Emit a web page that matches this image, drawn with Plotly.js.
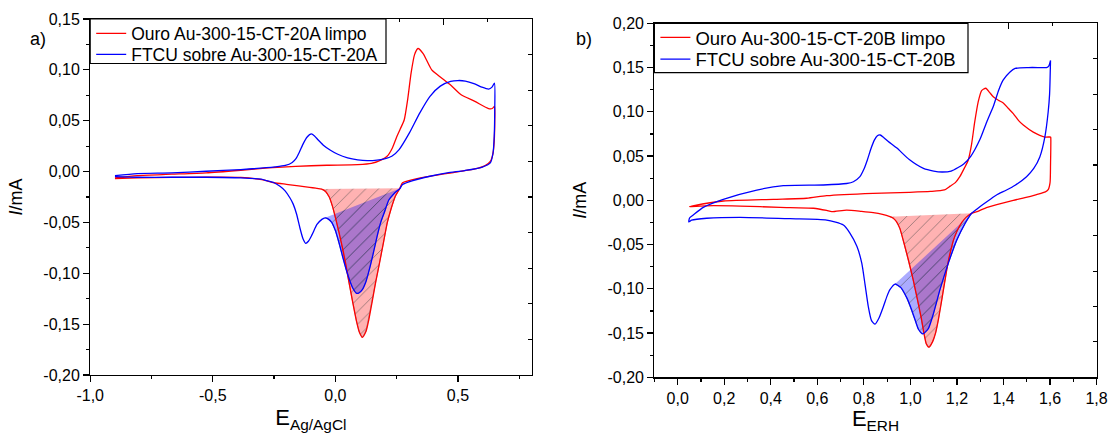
<!DOCTYPE html>
<html>
<head>
<meta charset="utf-8">
<script src="https://cdn.plot.ly/plotly-3.0.1.min.js"></script>
<style>html,body{margin:0;padding:0;background:#fff;}#chart{width:1108px;height:434px;}</style>
</head>
<body>
<div id="chart"></div>
<script>
// ---------------- DATA ----------------
// Panel a) E vs Ag/AgCl ; each cycle: anodic sweep (left->right) then cathodic sweep (right->left)
const leftNames = ['Ouro Au-300-15-CT-20A limpo', 'FTCU sobre Au-300-15-CT-20A'];
const leftRedX = [
 -0.899,-0.808,-0.667,-0.527,-0.386,-0.274,-0.162,-0.035,0.091,0.147,0.190,0.211,0.232,0.250,0.265,0.281,0.295,0.309,0.323,0.337,0.358,0.393,0.428,0.470,0.513,0.569,0.625,0.640,0.649,
 0.650,0.648,0.643,0.632,0.611,0.569,0.485,0.400,0.316,0.274,0.263,0.245,0.228,0.212,0.196,0.180,0.165,0.150,0.137,0.125,0.110,0.098,0.087,0.072,0.058,0.044,0.030,0.015,0.002,-0.012,-0.025,-0.040,-0.056,-0.080,-0.105,-0.150,-0.200,-0.250,-0.300,-0.386,-0.527,-0.667,-0.808,-0.899];
const leftRedY = [
 -0.0062,-0.0039,-0.0026,-0.0013,0.0013,0.0036,0.0052,0.0062,0.0068,0.0080,0.0118,0.0150,0.0230,0.0340,0.0420,0.0510,0.0710,0.0970,0.1150,0.1210,0.1160,0.1000,0.0930,0.0850,0.0755,0.0690,0.0620,0.0620,0.0640,
 0.0500,0.0300,0.0180,0.0100,0.0059,0.0026,-0.0007,-0.0039,-0.0078,-0.0110,-0.0165,-0.0240,-0.0360,-0.0500,-0.0700,-0.0900,-0.1080,-0.1280,-0.1450,-0.1570,-0.1630,-0.1580,-0.1480,-0.1300,-0.1120,-0.0930,-0.0760,-0.0600,-0.0470,-0.0340,-0.0250,-0.0195,-0.0172,-0.0163,-0.0155,-0.0140,-0.0125,-0.0110,-0.0080,-0.0058,-0.0056,-0.0058,-0.0062,-0.0069];
const leftBlueX = [
 -0.899,-0.808,-0.667,-0.527,-0.386,-0.246,-0.204,-0.176,-0.160,-0.147,-0.130,-0.115,-0.098,-0.085,-0.070,-0.049,-0.020,0.010,0.050,0.091,0.130,0.170,0.200,0.230,0.260,0.302,0.344,0.386,0.428,0.470,0.500,0.530,0.565,0.597,0.625,0.639,0.649,
 0.650,0.648,0.643,0.632,0.597,0.527,0.456,0.386,0.316,0.274,0.263,0.240,0.218,0.200,0.185,0.170,0.155,0.140,0.125,0.110,0.095,0.085,0.072,0.060,0.045,0.030,0.015,0.000,-0.015,-0.030,-0.042,-0.055,-0.075,-0.095,-0.110,-0.121,-0.132,-0.145,-0.158,-0.172,-0.185,-0.205,-0.226,-0.250,-0.280,-0.302,-0.386,-0.527,-0.667,-0.808,-0.899];
const leftBlueY = [
 -0.0040,-0.0020,-0.0013,0.0003,0.0020,0.0046,0.0060,0.0090,0.0130,0.0190,0.0280,0.0340,0.0370,0.0350,0.0310,0.0260,0.0210,0.0170,0.0135,0.0115,0.0107,0.0112,0.0125,0.0150,0.0216,0.0380,0.0575,0.0740,0.0840,0.0886,0.0895,0.0890,0.0865,0.0830,0.0810,0.0830,0.0870,
 0.0600,0.0350,0.0180,0.0085,0.0042,0.0010,-0.0013,-0.0046,-0.0088,-0.0127,-0.0167,-0.0215,-0.0280,-0.0400,-0.0500,-0.0640,-0.0800,-0.0950,-0.1080,-0.1160,-0.1195,-0.1195,-0.1150,-0.1080,-0.0970,-0.0840,-0.0700,-0.0580,-0.0500,-0.0465,-0.0455,-0.0470,-0.0520,-0.0620,-0.0685,-0.0705,-0.0660,-0.0550,-0.0420,-0.0320,-0.0260,-0.0190,-0.0145,-0.0110,-0.0090,-0.0075,-0.0062,-0.0056,-0.0056,-0.0056,-0.0050];
// integration baselines (x of the two end points on the cathodic branch)
const leftRedBase = [-0.056, 0.263];
const leftBlueBase = [-0.042, 0.263];

// Panel b) E vs ERH
const rightNames = ['Ouro Au-300-15-CT-20B limpo', 'FTCU sobre Au-300-15-CT-20B'];
const rightRedX = [
 0.051,0.070,0.196,0.411,0.554,0.640,0.840,0.995,1.086,1.146,1.171,1.193,1.213,1.235,1.248,1.262,1.276,1.291,1.306,1.324,1.340,1.356,1.378,1.399,1.420,1.442,1.465,1.485,1.528,1.578,1.602,
 1.603,1.602,1.600,1.592,1.580,1.542,1.492,1.442,1.371,1.320,1.290,1.263,1.240,1.221,1.200,1.185,1.172,1.162,1.152,1.142,1.130,1.120,1.108,1.095,1.080,1.068,1.058,1.046,1.030,1.012,0.992,0.972,0.955,0.940,0.925,0.912,0.880,0.840,0.790,0.726,0.662,0.640,0.583,0.440,0.268,0.120,0.060,0.051];
const rightRedY = [
 -0.0072,-0.0060,-0.0008,0.0011,0.0023,0.0052,0.0079,0.0090,0.0100,0.0117,0.0160,0.0200,0.0270,0.0380,0.0450,0.0620,0.0880,0.1110,0.1240,0.1266,0.1220,0.1170,0.1130,0.1100,0.1040,0.0980,0.0900,0.0850,0.0770,0.0715,0.0715,
 0.0710,0.0400,0.0200,0.0120,0.0095,0.0065,0.0030,0.0000,-0.0050,-0.0090,-0.0125,-0.0147,-0.0190,-0.0250,-0.0350,-0.0450,-0.0580,-0.0700,-0.0850,-0.1010,-0.1200,-0.1350,-0.1500,-0.1600,-0.1660,-0.1620,-0.1500,-0.1320,-0.1120,-0.0900,-0.0680,-0.0480,-0.0320,-0.0240,-0.0200,-0.0185,-0.0160,-0.0140,-0.0125,-0.0110,-0.0129,-0.0115,-0.0090,-0.0080,-0.0065,-0.0062,-0.0070,-0.0072];
const rightBlueX = [
 0.048,0.051,0.067,0.110,0.196,0.340,0.454,0.626,0.726,0.755,0.783,0.800,0.815,0.830,0.845,0.858,0.870,0.885,0.905,0.942,0.995,1.056,1.100,1.136,1.175,1.205,1.229,1.260,1.299,1.330,1.356,1.380,1.399,1.428,1.450,1.507,1.559,1.585,1.595,1.602,
 1.602,1.598,1.592,1.578,1.556,1.530,1.499,1.450,1.413,1.370,1.342,1.310,1.285,1.263,1.235,1.199,1.163,1.127,1.099,1.077,1.053,1.035,1.020,1.000,0.984,0.960,0.934,0.912,0.900,0.884,0.865,0.848,0.833,0.819,0.805,0.791,0.770,0.740,0.712,0.640,0.483,0.268,0.125,0.060,0.048];
const rightBlueY = [
 -0.0244,-0.0200,-0.0166,-0.0080,0.0011,0.0116,0.0165,0.0173,0.0190,0.0210,0.0267,0.0350,0.0456,0.0580,0.0680,0.0730,0.0738,0.0710,0.0665,0.0590,0.0460,0.0360,0.0330,0.0320,0.0330,0.0370,0.0410,0.0500,0.0690,0.0900,0.1060,0.1250,0.1360,0.1450,0.1490,0.1500,0.1500,0.1500,0.1520,0.1580,
 0.1580,0.1200,0.1000,0.0720,0.0490,0.0360,0.0267,0.0170,0.0116,0.0060,0.0010,-0.0050,-0.0100,-0.0147,-0.0260,-0.0450,-0.0710,-0.1010,-0.1280,-0.1450,-0.1510,-0.1460,-0.1350,-0.1200,-0.1100,-0.0990,-0.0946,-0.1010,-0.1080,-0.1200,-0.1330,-0.1400,-0.1360,-0.1200,-0.0950,-0.0710,-0.0520,-0.0370,-0.0280,-0.0223,-0.0208,-0.0192,-0.0203,-0.0225,-0.0244];
const rightRedBase = [0.912, 1.263];
const rightBlueBase = [0.934, 1.263];

// tick labels
const leftXTicks = [-1.0, -0.5, 0.0, 0.5];
const leftXTickText = ['-1,0', '-0,5', '0,0', '0,5'];
const leftYTicks = [-0.20, -0.15, -0.10, -0.05, 0.00, 0.05, 0.10, 0.15];
const leftYTickText = ['-0,20', '-0,15', '-0,10', '-0,05', '0,00', '0,05', '0,10', '0,15'];
const rightXTicks = [0.0, 0.2, 0.4, 0.6, 0.8, 1.0, 1.2, 1.4, 1.6, 1.8];
const rightXTickText = ['0,0', '0,2', '0,4', '0,6', '0,8', '1,0', '1,2', '1,4', '1,6', '1,8'];
const rightYTicks = [-0.20, -0.15, -0.10, -0.05, 0.00, 0.05, 0.10, 0.15, 0.20];
const rightYTickText = ['-0,20', '-0,15', '-0,10', '-0,05', '0,00', '0,05', '0,10', '0,15', '0,20'];

// ---------------- BUILD ----------------
const RED = '#ff0000', BLUE = '#0000ff';
const FONT = 'Arial, "Liberation Sans", sans-serif';

function cathodicPeak(xs, ys, base) {
  let imax = 0;
  for (let i = 1; i < xs.length; i++) if (xs[i] > xs[imax]) imax = i;
  const px = [], py = [];
  for (let i = imax; i < xs.length; i++) {
    if (xs[i] >= base[0] - 1e-9 && xs[i] <= base[1] + 1e-9) { px.push(xs[i]); py.push(ys[i]); }
  }
  return {x: px, y: py};
}
function fillTrace(xs, ys, base, bg, xa, ya) {
  const seg = cathodicPeak(xs, ys, base);
  return {
    x: seg.x, y: seg.y, xaxis: xa, yaxis: ya, mode: 'lines', fill: 'toself',
    fillcolor: bg,
    fillpattern: {shape: '/', bgcolor: bg, fgcolor: 'rgba(70,70,70,0.55)', size: 9, solidity: 0.1},
    line: {color: 'rgba(120,120,120,0.7)', width: 1},
    showlegend: false, hoverinfo: 'skip'
  };
}
function lineTrace(xs, ys, name, color, xa, ya, leg) {
  return {x: xs, y: ys, name: name, xaxis: xa, yaxis: ya, mode: 'lines',
          line: {color: color, width: 1.3, shape: 'spline', smoothing: 0.6}, legend: leg};
}

const traces = [
  fillTrace(leftRedX, leftRedY, leftRedBase, 'rgba(255,0,0,0.3)', 'x', 'y'),
  fillTrace(leftBlueX, leftBlueY, leftBlueBase, 'rgba(0,0,255,0.33)', 'x', 'y'),
  lineTrace(leftRedX, leftRedY, leftNames[0], RED, 'x', 'y', 'legend'),
  lineTrace(leftBlueX, leftBlueY, leftNames[1], BLUE, 'x', 'y', 'legend2'),
  fillTrace(rightRedX, rightRedY, rightRedBase, 'rgba(255,0,0,0.3)', 'x2', 'y2'),
  fillTrace(rightBlueX, rightBlueY, rightBlueBase, 'rgba(0,0,255,0.33)', 'x2', 'y2'),
  lineTrace(rightRedX, rightRedY, rightNames[0], RED, 'x2', 'y2', 'legend3'),
  lineTrace(rightBlueX, rightBlueY, rightNames[1], BLUE, 'x2', 'y2', 'legend4'),
  {x: [], y: [], xaxis: 'x3', yaxis: 'y3', showlegend: false, hoverinfo: 'skip', mode: 'lines'},
  {x: [], y: [], xaxis: 'x4', yaxis: 'y4', showlegend: false, hoverinfo: 'skip', mode: 'lines'}
];

const W = 1108, H = 434;
const A = {x0: 90.2, x1: 531.5, y0: 19, y1: 375};
const B = {x0: 654.4, x1: 1096.6, y0: 23.3, y1: 377.3};
const fx = p => p / W, fy = p => 1 - p / H;

const baseAxis = {
  showline: true, mirror: true, linecolor: '#000', linewidth: 1.2,
  ticks: 'outside', ticklen: 6, tickwidth: 1.2, tickcolor: '#000',
  tickfont: {family: FONT, size: 16, color: '#000'},
  showgrid: false, zeroline: false, tickmode: 'array', fixedrange: true
};
const mirrorAxis = {
  showticklabels: false, showgrid: false, zeroline: false, showline: false,
  ticks: 'inside', tickcolor: '#000', tickwidth: 1.2, range: [0, 10], fixedrange: true
};
function legendAt(px, py, size) {
  return {x: fx(px), y: fy(py), xanchor: 'left', yanchor: 'top',
          bgcolor: 'rgba(0,0,0,0)', borderwidth: 0,
          font: {family: FONT, size: size, color: '#000'}, tracegroupgap: 0, itemwidth: 30};
}

const layout = {
  width: W, height: H, margin: {l: 0, r: 0, t: 0, b: 0},
  paper_bgcolor: '#fff', plot_bgcolor: '#fff',
  font: {family: FONT, color: '#000'},
  xaxis: Object.assign({}, baseAxis, {
    domain: [fx(A.x0), fx(A.x1)], anchor: 'y', range: [-1.0, 0.8],
    tickvals: leftXTicks, ticktext: leftXTickText,
    minor: {tickmode: 'linear', tick0: -1.0, dtick: 0.25, ticks: 'outside', ticklen: 3, tickcolor: '#000', tickwidth: 1.2},
    title: {text: 'E<sub>Ag/AgCl</sub>', font: {family: FONT, size: 22, color: '#000'}, standoff: 6}
  }),
  yaxis: Object.assign({}, baseAxis, {
    domain: [fy(A.y1), fy(A.y0)], anchor: 'x', range: [-0.20, 0.15],
    tickvals: leftYTicks, ticktext: leftYTickText,
    minor: {tickmode: 'linear', tick0: -0.2, dtick: 0.025, ticks: 'outside', ticklen: 3, tickcolor: '#000', tickwidth: 1.2},
    title: {text: '<i>I</i>/mA', font: {family: FONT, size: 18, color: '#000'}, standoff: 16}
  }),
  xaxis2: Object.assign({}, baseAxis, {
    domain: [fx(B.x0), fx(B.x1)], anchor: 'y2', range: [-0.1, 1.8],
    tickvals: rightXTicks, ticktext: rightXTickText,
    minor: {tickmode: 'linear', tick0: -0.1, dtick: 0.1, ticks: 'outside', ticklen: 3, tickcolor: '#000', tickwidth: 1.2},
    title: {text: 'E<sub>ERH</sub>', font: {family: FONT, size: 22, color: '#000'}, standoff: 6}
  }),
  yaxis2: Object.assign({}, baseAxis, {
    domain: [fy(B.y1), fy(B.y0)], anchor: 'x2', range: [-0.20, 0.20],
    tickvals: rightYTicks, ticktext: rightYTickText,
    minor: {tickmode: 'linear', tick0: -0.2, dtick: 0.025, ticks: 'outside', ticklen: 3, tickcolor: '#000', tickwidth: 1.2},
    title: {text: '<i>I</i>/mA', font: {family: FONT, size: 18, color: '#000'}, standoff: 16}
  }),
  xaxis3: Object.assign({}, mirrorAxis, {overlaying: 'x', anchor: 'y3', side: 'top', tickmode: 'linear', tick0: 0, dtick: 2, ticklen: 6,
    minor: {tickmode: 'linear', tick0: 0, dtick: 1, ticks: 'inside', ticklen: 3, tickcolor: '#000', tickwidth: 1.2}}),
  yaxis3: Object.assign({}, mirrorAxis, {overlaying: 'y', anchor: 'x3', side: 'right', tickmode: 'linear', tick0: 0, dtick: 1, ticklen: 4}),
  xaxis4: Object.assign({}, mirrorAxis, {overlaying: 'x2', anchor: 'y4', side: 'top', tickmode: 'linear', tick0: 0, dtick: 2, ticklen: 6,
    minor: {tickmode: 'linear', tick0: 0, dtick: 1, ticks: 'inside', ticklen: 3, tickcolor: '#000', tickwidth: 1.2}}),
  yaxis4: Object.assign({}, mirrorAxis, {overlaying: 'y2', anchor: 'x4', side: 'right', tickmode: 'linear', tick0: 0, dtick: 1, ticklen: 4}),
  legend: legendAt(A.x0 + 1, 15.5, 17.5),
  legend2: legendAt(A.x0 + 1, 36.5, 17.5),
  legend3: legendAt(B.x0 + 1, 18.8, 18.5),
  legend4: legendAt(B.x0 + 1, 40.5, 18.5),
  shapes: [
    {type: 'rect', xref: 'paper', yref: 'paper', x0: fx(A.x0), x1: fx(386), y0: fy(A.y0), y1: fy(63.5),
     line: {color: '#000', width: 1.2}, fillcolor: '#fff', layer: 'above'},
    {type: 'rect', xref: 'paper', yref: 'paper', x0: fx(B.x0), x1: fx(968), y0: fy(B.y0), y1: fy(72.7),
     line: {color: '#000', width: 1.2}, fillcolor: '#fff', layer: 'above'}
  ],
  annotations: [
    {text: 'a)', xref: 'paper', yref: 'paper', x: fx(28), y: fy(27), showarrow: false, font: {family: FONT, size: 18, color: '#000'}},
    {text: 'b)', xref: 'paper', yref: 'paper', x: fx(584), y: fy(27), showarrow: false, font: {family: FONT, size: 18, color: '#000'}}
  ],
  showlegend: true
};

Plotly.newPlot('chart', traces, layout, {displayModeBar: false, staticPlot: true}).then(function () {
  document.querySelectorAll('#chart text').forEach(function (t) {
    if (!t.textContent || !t.textContent.trim()) t.parentNode.removeChild(t);
  });
});
</script>
</body>
</html>
